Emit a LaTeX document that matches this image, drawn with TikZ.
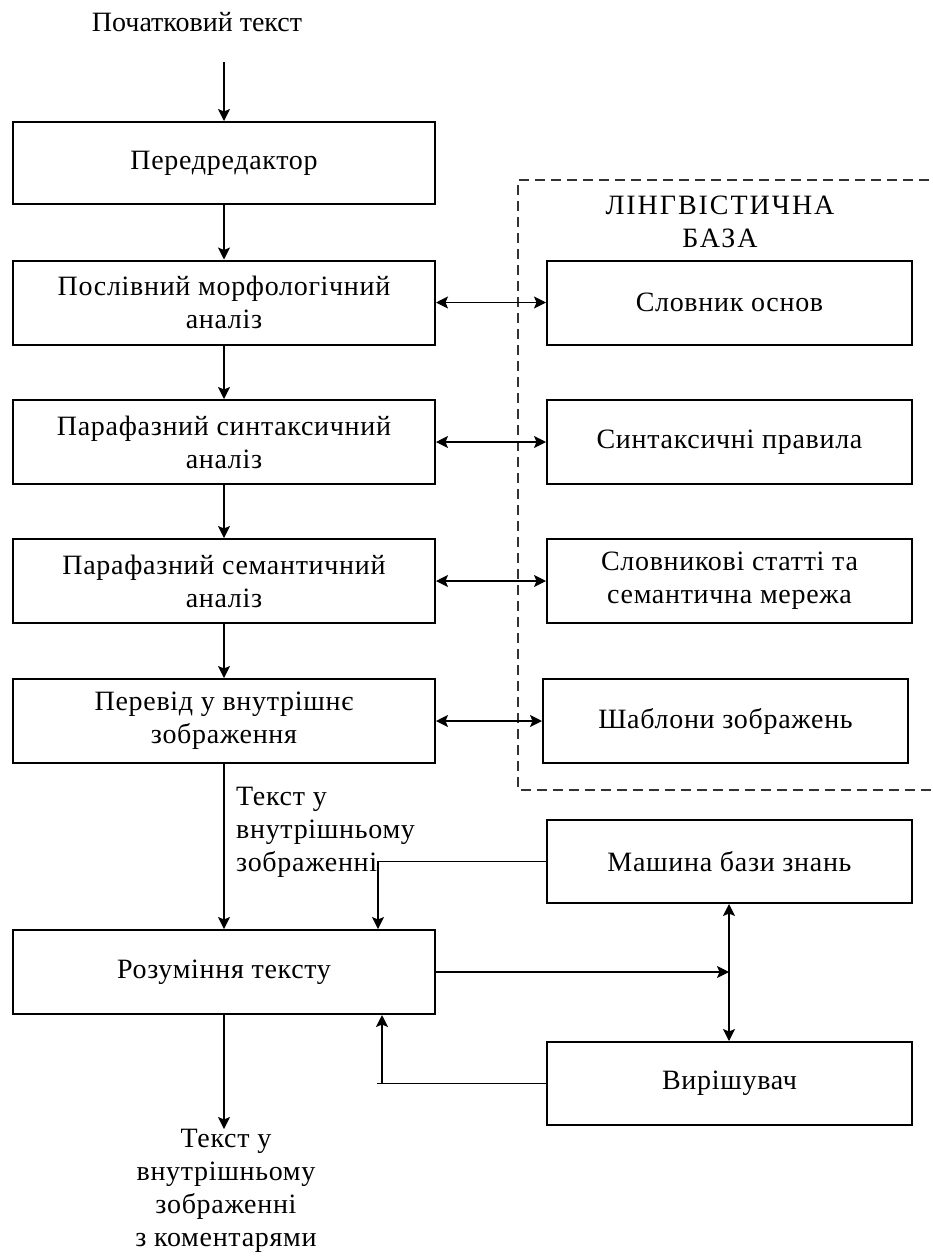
\documentclass[tikz,border=0pt]{standalone}
\usepackage{fontspec}
\setmainfont{Liberation Serif}[LetterSpace=2.5]
\newfontfamily\capsfont{Liberation Serif}[LetterSpace=7]
\newfontfamily\plainfont{Liberation Serif}
\usetikzlibrary{arrows.meta}
\begin{document}
\begin{tikzpicture}[x=1pt,y=-1pt,
  font=\fontsize{28}{33}\selectfont,
  box/.style={draw,line width=2pt,minimum height=84pt,align=center,inner sep=0pt},
  lbox/.style={box,minimum width=422pt},
  rbox/.style={box,minimum width=365pt},
  conn/.style={line width=1.3pt},
  tip/.tip={Stealth[length=12pt,width=12pt,inset=2.5pt]},
  arr/.style={conn,-tip},
  darr/.style={conn,tip-tip},
  frame/.style={line width=1.3pt,dash pattern=on 10pt off 6pt,draw=black!80},
  lbl/.style={inner sep=0pt}]
\useasboundingbox (0,0) rectangle (933,1256);
% title
\node[lbl,font=\plainfont\fontsize{28}{33}\selectfont] (title) at (197,22) {Початковий текст};
\coordinate (start) at (224,62);
% left column
\node[lbox,minimum height=82pt] (pre) at (224,163) {Передредактор};
\node[lbox] (morph) at (224,302.5) {Послівний морфологічний\\аналіз};
\node[lbox] (syn) at (224,442) {Парафазний синтаксичний\\аналіз};
\node[lbox] (sem) at (224,581) {Парафазний семантичний\\аналіз};
\node[lbox] (intr) at (224,721) {Перевід у внутрішнє\\зображення};
\node[lbox] (und) at (224,972) {Розуміння тексту};
% linguistic base frame
\draw[frame] (945,180) -- (518,180) -- (518,790) -- (945,790);
\node[lbl,align=center] (lb) at (720,222) {\capsfont ЛІНГВІСТИЧНА\\\capsfont БАЗА};
% right column
\node[rbox] (dict) at (729.5,302.5) {Словник основ};
\node[rbox] (rules) at (729.5,442) {Синтаксичні правила};
\node[rbox] (art) at (729.5,581) {Словникові статті та\\семантична мережа};
\node[rbox] (tmpl) at (725.5,721) {Шаблони зображень};
\node[rbox,minimum height=83pt] (kbm) at (729.5,861.5) {Машина бази знань};
\node[rbox,minimum height=83pt] (solv) at (729.5,1083.5) {Вирішувач};
% labels
\node[lbl,align=left,anchor=north west] (mid) at (236,786.5) {Текст у\\внутрішньому\\зображенні};
\node[lbl,align=center,anchor=north] (out) at (226,1129) {Текст у\\внутрішньому\\зображенні\\з коментарями};
% helper coordinates
\coordinate (jx) at (378,0);
\coordinate (vx) at (729,0);
\coordinate (fx) at (382,0);
\coordinate (ox) at (377,0);
% main flow
\draw[arr] (start) -- (pre.north);
\draw[arr] (pre.south) -- (morph.north);
\draw[arr] (morph.south) -- (syn.north);
\draw[arr] (syn.south) -- (sem.north);
\draw[arr] (sem.south) -- (intr.north);
\draw[arr] (intr.south) -- (und.north);
\draw[arr] (und.south) -- (und.south |- out.north);
% base links
\draw[darr] (morph.east) -- (morph.east -| dict.west);
\draw[darr] (syn.east) -- (syn.east -| rules.west);
\draw[darr] (sem.east) -- (sem.east -| art.west);
\draw[darr] (intr.east) -- (intr.east -| tmpl.west);
% knowledge machine and solver
\draw[arr] (kbm.west) -- (kbm.west -| jx) -- (jx |- und.north);
\draw[arr] (und.east) -- (und.east -| vx);
\draw[darr] (kbm.south -| vx) -- (solv.north -| vx);
\draw[conn] (solv.west) -- (solv.west -| ox);
\draw[arr] (solv.west -| fx) -- (fx |- und.south);
\end{tikzpicture}
\end{document}
